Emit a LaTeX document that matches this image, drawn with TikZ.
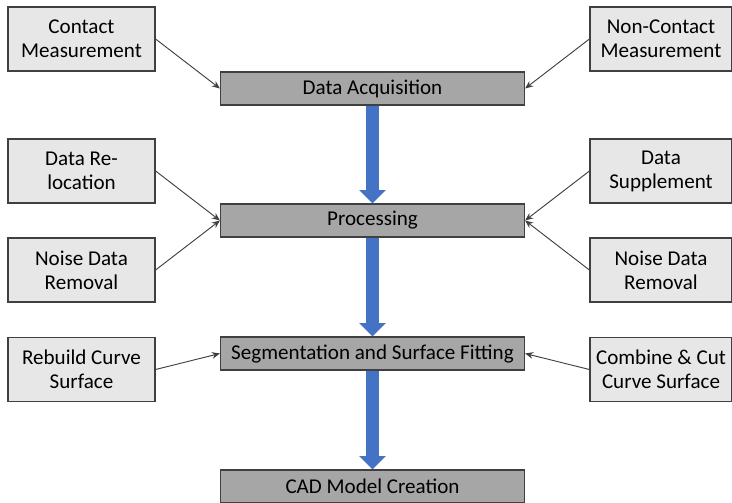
\documentclass[tikz,border=0pt]{standalone}
\usepackage{fontspec}
\setmainfont{Carlito}
\usetikzlibrary{arrows.meta}
\definecolor{lightbox}{HTML}{E7E7E7}
\definecolor{darkbox}{HTML}{A6A6A6}
\definecolor{edgegray}{HTML}{404040}
\definecolor{flowblue}{HTML}{4472C4}
\tikzset{
  sidebox/.style={draw=edgegray, line width=0.9pt, fill=lightbox, minimum height=48pt,
    inner sep=0pt, align=center, font=\fontsize{15.8}{18}\selectfont},
  leftbox/.style={sidebox, minimum width=110.25pt},
  rightbox/.style={sidebox, minimum width=106.5pt},
  mainbox/.style={draw=edgegray, line width=0.9pt, fill=darkbox, minimum width=228pt,
    minimum height=24.75pt, inner sep=0pt, font=\fontsize{15.8}{18}\selectfont},
  feed/.style={draw=edgegray, line width=0.7pt, -{Stealth[length=6pt,width=5pt]}},
  flow/.style={draw=flowblue, line width=9.5pt, -{Triangle[length=10pt,width=19.5pt]}},
}
\begin{document}
\begin{tikzpicture}[x=0.75pt, y=-0.75pt]
\useasboundingbox (0,0) rectangle (732,503);
% center boxes
\node[mainbox] (acq) at (372.5,88.5) {Data Acquisition};
\node[mainbox] (proc) at (372.5,220.5) {Processing};
\node[mainbox] (seg) at (372.5,353.5) {Segmentation and Surface Fitting};
\node[mainbox] (cad) at (372.5,486.5) {CAD Model Creation};
% left boxes
\node[leftbox] (contact) at (81.5,39) {Contact\\Measurement};
\node[leftbox] (reloc) at (81.5,171) {Data Re-\\location};
\node[leftbox] (noisel) at (81.5,270) {Noise Data\\Removal};
\node[leftbox] (rebuild) at (81.5,369.5) {Rebuild Curve\\Surface};
% right boxes
\node[rightbox] (noncontact) at (661,39) {Non-Contact\\Measurement};
\node[rightbox] (supp) at (661,171) {Data\\Supplement};
\node[rightbox] (noiser) at (661,270) {Noise Data\\Removal};
\node[rightbox] (combine) at (661,369.5) {Combine \& Cut\\Curve Surface};
% feeders
\draw[feed] (contact.east) -- (acq.west);
\draw[feed] (noncontact.west) -- (acq.east);
\draw[feed] (reloc.east) -- (proc.west);
\draw[feed] (noisel.east) -- (proc.west);
\draw[feed] (supp.west) -- (proc.east);
\draw[feed] (noiser.west) -- (proc.east);
\draw[feed] (rebuild.east) -- (seg.west);
\draw[feed] (combine.west) -- (seg.east);
% main flow
\draw[flow] (acq.south) -- (proc.north);
\draw[flow] (proc.south) -- (seg.north);
\draw[flow] (seg.south) -- (cad.north);
\end{tikzpicture}
\end{document}
